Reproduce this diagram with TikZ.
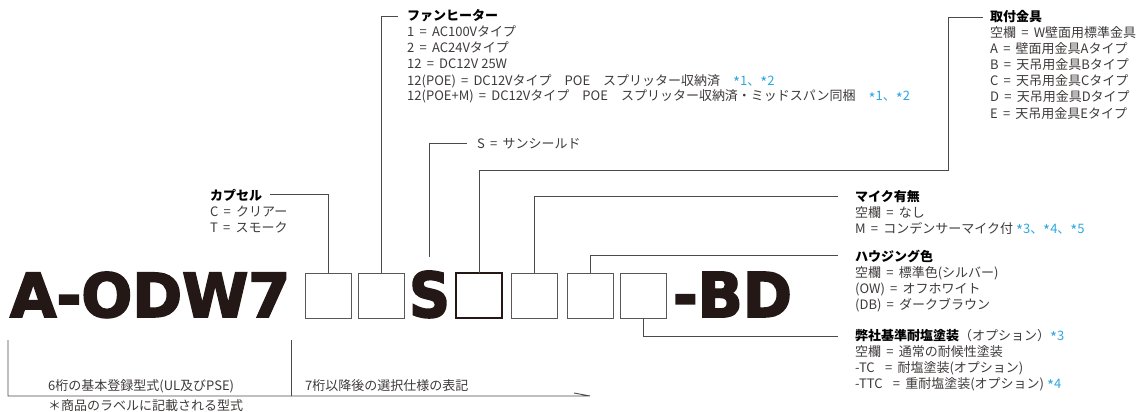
\documentclass[tikz,border=0pt]{standalone}
\usepackage{fontspec}
\setmainfont{Noto Sans CJK JP}
\newfontfamily\bigfont{DejaVu Sans}[BoldFeatures={FakeBold=3}]
\usepackage{graphicx}
\definecolor{textgray}{HTML}{3E3A39}
\definecolor{linegray}{HTML}{4A4A4A}
\definecolor{boxgray}{HTML}{595757}
\definecolor{codeblack}{HTML}{231815}
\definecolor{noteblue}{HTML}{2EA7E0}
\newcommand\bodylines[4]{\foreach \bl [count=\i] in {#4} {\node[body] (#1-\i) at (#2,{#3+16*\i}) {\bl};}}
\newcommand\eqs{\hspace{0.4em}=\hspace{0.4em}}
\newcommand\nt[1]{\textcolor{noteblue}{#1}}
\newcommand\noteast{\raisebox{-0.28em}{\fontsize{15}{16}\selectfont *}}
\begin{document}
\begin{tikzpicture}[x=1pt,y=-1pt,
  conn/.style={draw=linegray, line width=0.9pt},
  slot/.style={draw=boxgray, line width=1pt, minimum width=46pt, minimum height=45pt, inner sep=0pt, outer sep=0pt, anchor=north west},
  head/.style={font=\fontsize{13}{16}\selectfont\bfseries, text=black, inner sep=0pt, anchor=base west},
  body/.style={font=\fontsize{13}{16}\selectfont, text=textgray, inner sep=0pt, anchor=base west},
  big/.style={inner sep=0pt, outer sep=0pt, anchor=base west, text=codeblack}]
\useasboundingbox (0,0) rectangle (1144,412);

% model code
\node[big] (code) at (10,317) {\resizebox{280pt}{45pt}{\bigfont\bfseries A-ODW7}};
\node[slot] (b1) at (305,273) {};
\node[slot] (b2) at (358,273) {};
\node[big] (sS) at (409,317) {\resizebox{41pt}{46pt}{\bigfont\bfseries S}};
\node[slot, draw=codeblack, line width=1.8pt] (b3) at (456,273) {};
\node[slot] (b4) at (511,273) {};
\node[slot] (b5) at (567,273) {};
\node[slot] (b6) at (620,273) {};
\node[big] (bd) at (673,317) {\resizebox{119pt}{45pt}{\bigfont\bfseries -BD}};

% capsule
\node[head] (hcap) at (210,200) {カプセル};
\bodylines{cap}{210}{200}{{C\eqs クリアー},{T\eqs スモーク}}
% fan heater
\node[head] (hfan) at (407,21) {ファンヒーター};
\bodylines{fan}{407}{21}{{1\eqs AC100Vタイプ},{2\eqs AC24Vタイプ},{12\eqs DC12V 25W},{12(POE)\eqs DC12Vタイプ　POE　スプリッター収納済　\nt{\noteast1、\noteast2}},{12(POE+M)\eqs DC12Vタイプ　POE　スプリッター収納済・ミッドスパン同梱　\nt{\noteast1、\noteast2}}}
% sun shield
\node[body] (stext) at (477,148) {S\eqs サンシールド};
% mount
\node[head] (hmount) at (990,22) {取付金具};
\bodylines{mount}{990}{22}{{空欄\eqs W壁面用標準金具},{A\eqs 壁面用金具Aタイプ},{B\eqs 天吊用金具Bタイプ},{C\eqs 天吊用金具Cタイプ},{D\eqs 天吊用金具Dタイプ},{E\eqs 天吊用金具Eタイプ}}
% mic
\node[head] (hmic) at (855,201) {マイク有無};
\bodylines{mic}{855}{201}{{空欄\eqs なし},{M\eqs コンデンサーマイク付 \nt{\noteast3、\noteast4、\noteast5}}}
% housing
\node[head] (hhous) at (855,261) {ハウジング色};
\bodylines{hous}{855}{261}{{空欄\eqs 標準色(シルバー)},{(OW)\eqs オフホワイト},{(DB)\eqs ダークブラウン}}
% coating
\node[head] (hcoat) at (855,340) {弊社基準耐塩塗装{\mdseries\color{textgray}（オプション）}\nt{\mdseries\noteast3}};
\bodylines{coat}{855}{340}{{空欄\eqs 通常の耐候性塗装},{-TC\hspace{0.4em}\eqs 耐塩塗装(オプション)},{-TTC\hspace{0.4em}\eqs 重耐塩塗装(オプション) \nt{\noteast4}}}

% connectors
\draw[conn] ([xshift=8pt]hcap.east) -| (b1.north);
\draw[conn] (b2.north) |- ([xshift=-9pt]hfan.west);
\draw[conn] ([yshift=14pt]sS.north) |- ([xshift=-10pt]stext.west);
\coordinate (m1) at (948,170);
\draw[conn] (b3.north) |- (m1) |- ([xshift=-7pt]hmount.west);
\draw[conn] (b4.north) |- ([xshift=-17pt]hmic.west);
\draw[conn] (b5.north) |- ([xshift=-17pt]hhous.west);
\draw[conn] (b6.south) |- ([xshift=-17pt]hcoat.west);

% bottom bracket
\coordinate (L1) at (8,340);
\coordinate (L2) at (8,396);
\coordinate (M1) at (291,340);
\coordinate (M2) at (291,396);
\coordinate (E) at (590,396);
\coordinate (Et) at (574,393);
\draw[conn] (L1) -- (L2) -- (E) -- (Et);
\draw[conn] (M1) -- (M2);
\node[body] (n6) at (48,390) {6桁の基本登録型式(UL及びPSE)};
\node[body] (n7) at (305,390) {7桁以降後の選択仕様の表記};
\node[body] (nl) at (48,410) {＊商品のラベルに記載される型式};
\end{tikzpicture}
\end{document}
